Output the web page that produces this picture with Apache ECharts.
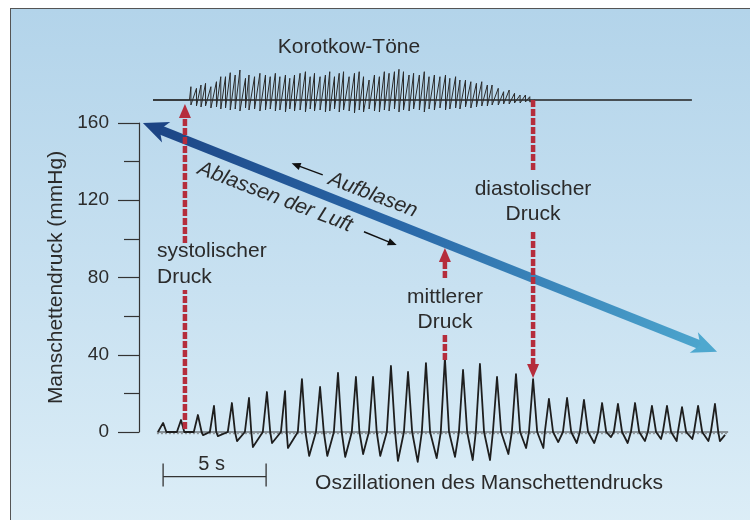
<!DOCTYPE html>
<html><head><meta charset="utf-8">
<script src="https://cdn.jsdelivr.net/npm/echarts@6/dist/echarts.min.js"></script>
<style>
html,body{margin:0;padding:0;background:#fff;}
#frame{position:absolute;left:10px;top:8px;width:780px;height:560px;border:1.5px solid #555;
 background:linear-gradient(to bottom,#b3d4ea 0%,#c8e1f1 50%,#e0f0f8 100%);}
#c{position:absolute;left:0;top:0;width:750px;height:520px;}
</style>
</head><body><div id="frame"></div><div id="c"></div>
<script>
// ---------- Data (time in s, pressure in mmHg) ----------
// cuff-pressure oscillations: for each beat the baseline crossing before the peak,
// the peak, the baseline crossing after it and the trough that follows
const riseTimes   = [0.97,1.84,2.66,3.44,4.31,5.14,6.01,6.89,7.71,8.59,9.46,10.33,11.16,12.03,12.86,13.73,14.65,15.53,16.35,17.18,18.10,18.93,19.70,20.58,21.40,22.28,23.05,23.88,24.70,25.43,26.16,26.94,27.76];
const beatTimes   = [1.17,2.04,2.86,3.64,4.51,5.34,6.21,7.09,7.91,8.79,9.66,10.53,11.36,12.23,13.06,13.93,14.85,15.73,16.55,17.38,18.30,19.13,19.90,20.78,21.60,22.48,23.25,24.08,24.90,25.63,26.36,27.14,27.96];
const beatPeaks   = [4.7,6.2,8.8,13.5,15.0,17.6,20.7,21.2,27.4,23.3,30.6,28.5,28.5,34.2,31.1,35.7,38.3,32.1,35.2,28.5,30.0,27.4,17.1,17.6,16.6,15.0,14.5,15.0,13.5,13.5,12.9,13.5,14.5];
const fallTimes   = [1.33,2.20,3.04,3.75,4.66,5.45,6.37,7.17,8.08,8.97,9.84,10.70,11.54,12.43,13.26,14.13,15.05,15.93,16.75,17.58,18.50,19.33,20.10,20.98,21.80,22.68,23.45,24.28,25.10,25.83,26.56,27.34,28.12];
const troughTimes = [1.41,2.28,3.11,3.83,4.76,5.53,6.46,7.23,8.26,9.14,10.01,10.88,11.71,12.57,13.53,14.45,15.34,16.20,17.04,17.93,18.79,19.63,20.35,21.25,22.10,22.91,23.72,24.56,25.34,26.10,26.86,27.64,28.20];
const troughValues= [-0.5,-1.0,-1.6,-2.1,-4.7,-7.8,-5.7,-8.3,-12.4,-12.4,-12.9,-11.4,-12.4,-15.0,-15.5,-13.5,-12.9,-14.5,-14.5,-11.4,-8.3,-8.3,-5.2,-5.7,-5.7,-2.6,-5.7,-4.7,-3.6,-4.7,-3.6,-4.7,-4.7];
const oscStart = [0.92, 0];
const oscEnd   = [28.45, -1.5];
const oscBaseline = [0.87, 28.6];

// Korotkow sounds (arbitrary amplitude units)
const korTimes = [2.52,2.79,3.01,3.23,3.49,3.76,3.97,4.20,4.43,4.67,4.90,5.17,5.34,5.61,5.87,6.14,6.37,6.62,6.84,7.11,7.32,7.55,7.82,8.08,8.31,8.52,8.79,9.05,9.26,9.49,9.72,9.93,10.20,10.46,10.69,10.90,11.17,11.43,11.67,11.91,12.14,12.40,12.62,12.84,13.11,13.33,13.61,13.85,14.08,14.34,14.61,14.88,15.09,15.37,15.58,15.85,16.11,16.38,16.64,16.91,17.14,17.44,17.70,17.97,18.23,18.50,18.76,18.97];
const korTops = [13.3,11.7,15,16.7,13.3,18.3,23.3,23.3,27.3,25,30,21.7,25,23.3,26.7,25,23.3,26.7,23.3,25,21.7,25,26.7,28.3,23.3,26.7,23.3,25,28.3,23.3,26.7,28.3,23.3,26.7,28.3,23.3,20,25,23.3,28.3,26.7,28.3,30.7,28.3,25,26.7,25,28.3,23.3,25,23.3,25,21.7,23.3,20,20,18.3,16.7,18.3,15,15,11.7,8.3,10,6.7,5,5,3.3];
const korBottoms = [-5,-6,-7,-6,-8,-7,-9,-8,-10,-9,-11,-8,-10,-9,-11,-10,-9,-11,-10,-12,-9,-11,-10,-12,-9,-11,-10,-12,-11,-9,-12,-10,-11,-13,-10,-12,-9,-11,-12,-10,-11,-9,-12,-10,-11,-9,-10,-12,-9,-10,-8,-10,-9,-8,-9,-7,-8,-7,-6,-6,-5,-5,-4,-4,-3,-3,-2,-2];
const korBaseline = [0.68, 26.84];
const korQuiet = [2.45, 19.2];

// pressure axis
const yMin = 0, yMax = 160, yLabelStep = 40, yTickStep = 20;
const xMin = 0, xMax = 29;

// annotations (t, mmHg)
const deflationArrow = [[0.19, 160, 28.06, 41.6]];
const systolicSegs  = [[2.23, 1.5, 73.5, 0], [2.23, 97.9, 169.8, 1]];
const meanSegs      = [[14.85, 37.3, 51.3, 0], [14.85, 79.7, 95.3, 1]];
const diastolicSegs = [[19.13, 171.9, 134.6, 0], [19.13, 103.6, 28.0, 1]];
const smallArrows   = [[8.92, 133.1, 7.41, 139.1], [10.92, 103.7, 12.51, 96.8]];
const scaleBar      = [[1.17, 5, -23.1]];

// ---------- Build ----------
const FONT = '"Liberation Sans", Arial, Helvetica, sans-serif';
const TXT = '#2b2b2b';
const RED = '#b52d3c';

const oscData = [oscStart];
beatTimes.forEach((t, i) => {
  oscData.push([riseTimes[i], 0]);
  oscData.push([t, beatPeaks[i]]);
  oscData.push([fallTimes[i], 0]);
  oscData.push([troughTimes[i], troughValues[i]]);
});
oscData.push(oscEnd);

const korData = [[korBaseline[0], 0], [korQuiet[0], 0]];
korTimes.forEach((t, i) => { korData.push([t, korTops[i]]); korData.push([t, korBottoms[i]]); });
korData.push([korQuiet[1], 0]);

function unit(a, b){ const dx=b[0]-a[0], dy=b[1]-a[1]; const l=Math.hypot(dx,dy)||1; return [dx/l, dy/l]; }
function head(tip, d, len, hw, notch, fill){
  const nx=-d[1], ny=d[0];
  const bx=tip[0]-d[0]*len, by=tip[1]-d[1]*len;
  const pts=[tip,[bx+nx*hw,by+ny*hw]];
  if(notch>0) pts.push([tip[0]-d[0]*(len-notch), tip[1]-d[1]*(len-notch)]);
  pts.push([bx-nx*hw,by-ny*hw]);
  return {type:'polygon', shape:{points:pts}, style:{fill:fill}};
}

const chart = echarts.init(document.getElementById('c'), null, {renderer:'canvas'});
const gridPos = {left:139, right:750-139-20.6*(xMax-xMin)};

function txt(s, x, y, align, extra){
  return Object.assign({type:'text', x:x, y:y, z:100, style:{text:s, font:'21px '+FONT, fill:TXT, align:align, verticalAlign:'middle', textAlign:align, textVerticalAlign:'middle'}}, extra||{});
}

const option = {
  backgroundColor:'transparent',
  animation:false,
  grid:[
    {left:gridPos.left, right:gridPos.right, top:123, bottom:88},
    {left:gridPos.left, right:gridPos.right, top:60, height:60}
  ],
  xAxis:[
    {gridIndex:0, type:'value', min:xMin, max:xMax, show:false},
    {gridIndex:1, type:'value', min:xMin, max:xMax, show:false}
  ],
  yAxis:[
    {gridIndex:0, type:'value', min:yMin, max:yMax, interval:yLabelStep,
     name:'Manschettendruck (mmHg)', nameLocation:'middle', nameGap:72, nameRotate:90,
     nameTextStyle:{fontSize:21, color:TXT, fontFamily:FONT},
     axisLine:{show:true, lineStyle:{color:'#333', width:1.2}},
     axisTick:{show:true, inside:false, length:21, lineStyle:{color:'#333', width:1.2}},
     minorTick:{show:true, splitNumber:yLabelStep/yTickStep, length:15, lineStyle:{color:'#333', width:1.2}},
     axisLabel:{fontSize:19, color:TXT, margin:30, fontFamily:FONT},
     splitLine:{show:false}, minorSplitLine:{show:false}},
    {gridIndex:1, type:'value', min:-20, max:40, show:false}
  ],
  graphic:[
    txt('Korotkow-Töne', 349, 47, 'center'),
    txt('systolischer', 157, 251, 'left'),
    txt('Druck', 157, 277, 'left'),
    txt('mittlerer', 445, 297, 'center'),
    txt('Druck', 445, 322, 'center'),
    txt('diastolischer', 533, 189, 'center'),
    txt('Druck', 533, 214, 'center'),
    txt('Oszillationen des Manschettendrucks', 489, 483, 'center'),
    (function(){const e=txt('Ablassen der Luft', 275, 197, 'center', {rotation:-21*Math.PI/180}); e.style.font='italic 21px '+FONT; return e;})(),
    (function(){const e=txt('Aufblasen', 373, 195, 'center', {rotation:-21*Math.PI/180}); e.style.font='italic 21px '+FONT; return e;})()
  ],
  series:[
    {type:'line', xAxisIndex:0, yAxisIndex:0, data:[[oscBaseline[0],0],[oscBaseline[1],0]], showSymbol:false, symbol:'none', clip:false,
     lineStyle:{color:'#3a3a3a', width:1.2}, z:3},
    {type:'line', xAxisIndex:0, yAxisIndex:0, data:[[oscBaseline[0],-0.9],[oscBaseline[1],-0.9]], showSymbol:false, symbol:'none', clip:false,
     lineStyle:{color:'#666', width:0.8, type:[2,2]}, z:3},
    {type:'line', xAxisIndex:0, yAxisIndex:0, data:oscData, showSymbol:false, symbol:'none', clip:false,
     lineStyle:{color:'#1e1e1e', width:1.8, join:'round'}, z:4},
    {type:'line', xAxisIndex:1, yAxisIndex:1, data:[[korBaseline[0],0],[korBaseline[1],0]], showSymbol:false, symbol:'none', clip:false,
     lineStyle:{color:'#222', width:1.6}, z:3},
    {type:'line', xAxisIndex:1, yAxisIndex:1, data:korData, showSymbol:false, symbol:'none', clip:false,
     lineStyle:{color:'#2a2a2a', width:1.0}, z:4},
    {type:'custom', xAxisIndex:0, yAxisIndex:0, data:deflationArrow, z:5, clip:false,
     renderItem:function(params, api){
       const p1=api.coord([api.value(0),api.value(1)]), p2=api.coord([api.value(2),api.value(3)]);
       const d=unit(p1,p2), L=25, hw=11, notch=7;
       const s1=[p1[0]+d[0]*(L-notch-1), p1[1]+d[1]*(L-notch-1)];
       const s2=[p2[0]-d[0]*(L-notch-1), p2[1]-d[1]*(L-notch-1)];
       const grad=new echarts.graphic.LinearGradient(p1[0],p1[1],p2[0],p2[1],[
         {offset:0,color:'#1c4484'},{offset:0.45,color:'#2a68a8'},{offset:1,color:'#4ea8cf'}], true);
       return {type:'group', children:[
         {type:'line', shape:{x1:s1[0],y1:s1[1],x2:s2[0],y2:s2[1]}, style:{stroke:grad, lineWidth:9}},
         head(p1,[-d[0],-d[1]],L,hw,notch,'#1c4484'),
         head(p2,d,L,hw,notch,'#4ea8cf')
       ]};
     }},
    {type:'custom', xAxisIndex:0, yAxisIndex:0, data:[].concat(systolicSegs, meanSegs, diastolicSegs), z:6, clip:false,
     renderItem:function(params, api){
       const p1=api.coord([api.value(0),api.value(1)]), p2=api.coord([api.value(0),api.value(2)]);
       const hasHead=api.value(3)===1, d=unit(p1,p2), L=14, hw=6;
       const e=hasHead?[p2[0]-d[0]*(L-1), p2[1]-d[1]*(L-1)]:p2;
       const ch=[{type:'line', shape:{x1:p1[0],y1:p1[1],x2:e[0],y2:e[1]}, style:{stroke:RED, lineWidth:4.5, lineDash:[7,2]}}];
       if(hasHead) ch.push(head(p2,d,L,hw,0,RED));
       return {type:'group', children:ch};
     }},
    {type:'custom', xAxisIndex:0, yAxisIndex:0, data:smallArrows, z:6, clip:false,
     renderItem:function(params, api){
       const p1=api.coord([api.value(0),api.value(1)]), p2=api.coord([api.value(2),api.value(3)]);
       const d=unit(p1,p2), L=9, hw=3.8;
       const e=[p2[0]-d[0]*(L-1), p2[1]-d[1]*(L-1)];
       return {type:'group', children:[
         {type:'line', shape:{x1:p1[0],y1:p1[1],x2:e[0],y2:e[1]}, style:{stroke:'#111', lineWidth:1.4}},
         head(p2,d,L,hw,0,'#111')
       ]};
     }},
    {type:'custom', xAxisIndex:0, yAxisIndex:0, data:scaleBar, z:6, clip:false,
     renderItem:function(params, api){
       const t0=api.value(0), len=api.value(1), v=api.value(2);
       const p1=api.coord([t0,v]), p2=api.coord([t0+len,v]);
       const st={stroke:'#333', lineWidth:1.3};
       return {type:'group', children:[
         {type:'line', shape:{x1:p1[0],y1:p1[1],x2:p2[0],y2:p2[1]}, style:st},
         {type:'line', shape:{x1:p1[0],y1:p1[1]-13,x2:p1[0],y2:p1[1]+10}, style:st},
         {type:'line', shape:{x1:p2[0],y1:p2[1]-13,x2:p2[0],y2:p2[1]+10}, style:st},
         {type:'text', style:{text:len+' s', x:(p1[0]+p2[0])/2-3, y:p1[1]-12, font:'20px '+FONT, fill:TXT, align:'center', verticalAlign:'middle', textAlign:'center', textVerticalAlign:'middle'}}
       ]};
     }}
  ]
};
chart.setOption(option);
</script>
</body></html>
